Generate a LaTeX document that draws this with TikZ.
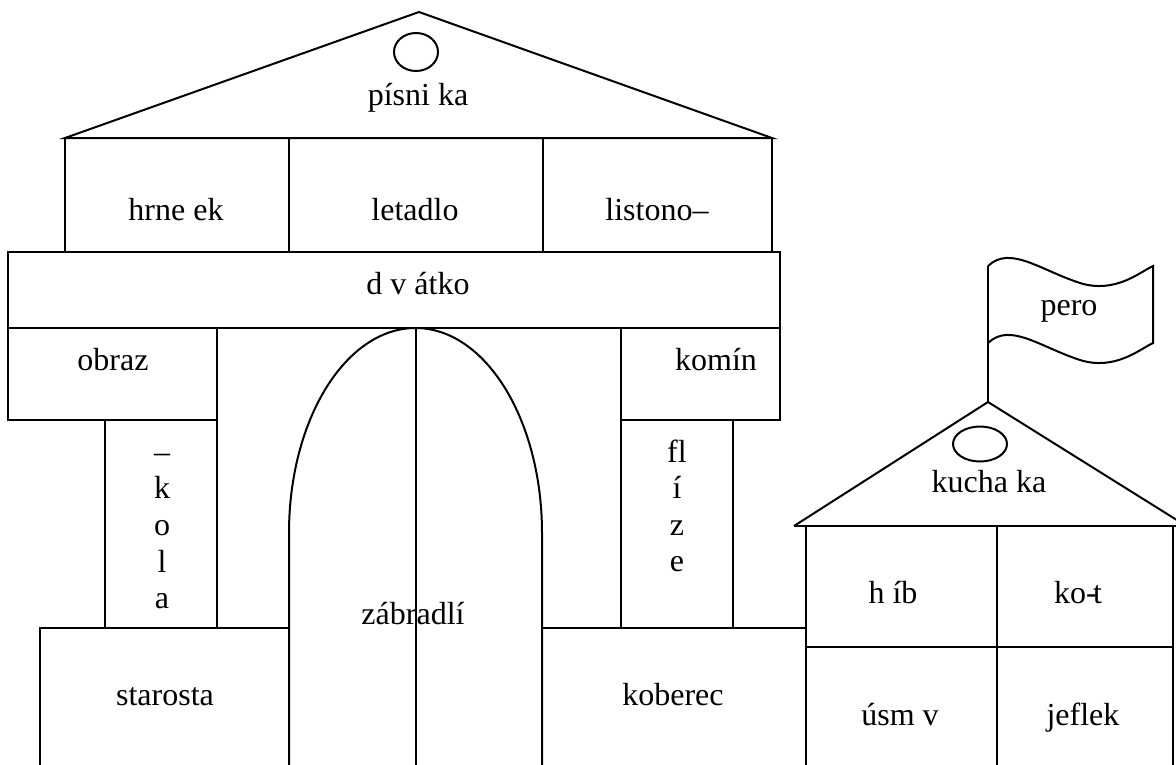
\documentclass[tikz,border=0pt]{standalone}
\usepackage{fontspec}
\setmainfont{Liberation Serif}
\begin{document}
\begin{tikzpicture}[x=1pt,y=-1pt,line width=2pt,line join=miter,
  lbl/.style={inner sep=0pt,font=\fontsize{32}{36.5}\selectfont,anchor=base}]
\useasboundingbox (0,0) rectangle (1176,764);
% big house
\draw (65,138) -- (419,12) -- (772,138) -- cycle;
\draw (416,52) ellipse[x radius=22,y radius=19];
\draw (65,138) -- (65,252) (289,138) -- (289,252) (543,138) -- (543,252) (772,138) -- (772,252);
\draw (8,252) rectangle (780,328);
\draw (8,328) -- (8,420) -- (217,420) -- (217,328);
\draw (105,420) -- (105,628) (217,420) -- (217,628);
\draw (621,328) -- (621,420) -- (780,420) -- (780,328);
\draw (621,420) -- (621,628) (733,420) -- (733,628);
\draw (40,770) -- (40,628) -- (289,628);
\draw (543,628) -- (806,628);
% arch
\draw (289,770) -- (289,533) .. controls (289,419.8) and (345.6,328) .. (415.5,328)
      .. controls (485.4,328) and (542,419.8) .. (542,533) -- (542,770);
\draw (415.5,328) -- (415.5,770);
% small house
\draw (794,526) -- (988,402) -- (1188,527);
\draw (794,526) -- (1180,526);
\draw (980,444) ellipse[x radius=27,y radius=17.5];
\draw (806,526) -- (806,770) (997,526) -- (997,770) (1173,526) -- (1173,770);
\draw (806,647) -- (1173,647);
% flag
\draw (988,402) -- (988,266);
\draw (988,266) .. controls (1010,245) and (1040,270) .. (1080,283)
      .. controls (1115,294) and (1140,272) .. (1153,266) -- (1153,343)
      .. controls (1140,349) and (1115,371) .. (1080,360)
      .. controls (1040,347) and (1010,322) .. (988,343);
% labels
\node[lbl] (t1) at (418,105) {písni ka};
\node[lbl] (t2) at (176,220) {hrne ek};
\node[lbl] (t3) at (415,220) {letadlo};
\node[lbl] (t4) at (657,220) {listono–};
\node[lbl] (t5) at (418,294) {d v átko};
\node[lbl] (t6) at (113,370) {obraz};
\node[lbl] (t7) at (716,370) {komín};
\node[lbl] (k1) at (162,462) {–};
\node[lbl] (k2) at (162,498) {k};
\node[lbl] (k3) at (162,535) {o};
\node[lbl] (k4) at (162,572) {l};
\node[lbl] (k5) at (162,608) {a};
\node[lbl] (f1) at (677,462) {fl};
\node[lbl] (f2) at (677,498) {í};
\node[lbl] (f3) at (677,535) {z};
\node[lbl] (f4) at (677,571) {e};
\node[lbl] (t8) at (413,624) {zábradlí};
\node[lbl] (t9) at (165,705) {starosta};
\node[lbl] (t10) at (673,705) {koberec};
\node[lbl] (t11) at (1069,315) {pero};
\node[lbl] (t12) at (989,492) {kucha ka};
\node[lbl] (t13) at (893,603) {h íb};
\node[lbl] (t14) at (1078,603) {ko-\kern-0.12em t};
\node[lbl] (t15) at (900,725) {úsm v};
\node[lbl] (t16) at (1083,725) {jeflek};
\end{tikzpicture}
\end{document}
